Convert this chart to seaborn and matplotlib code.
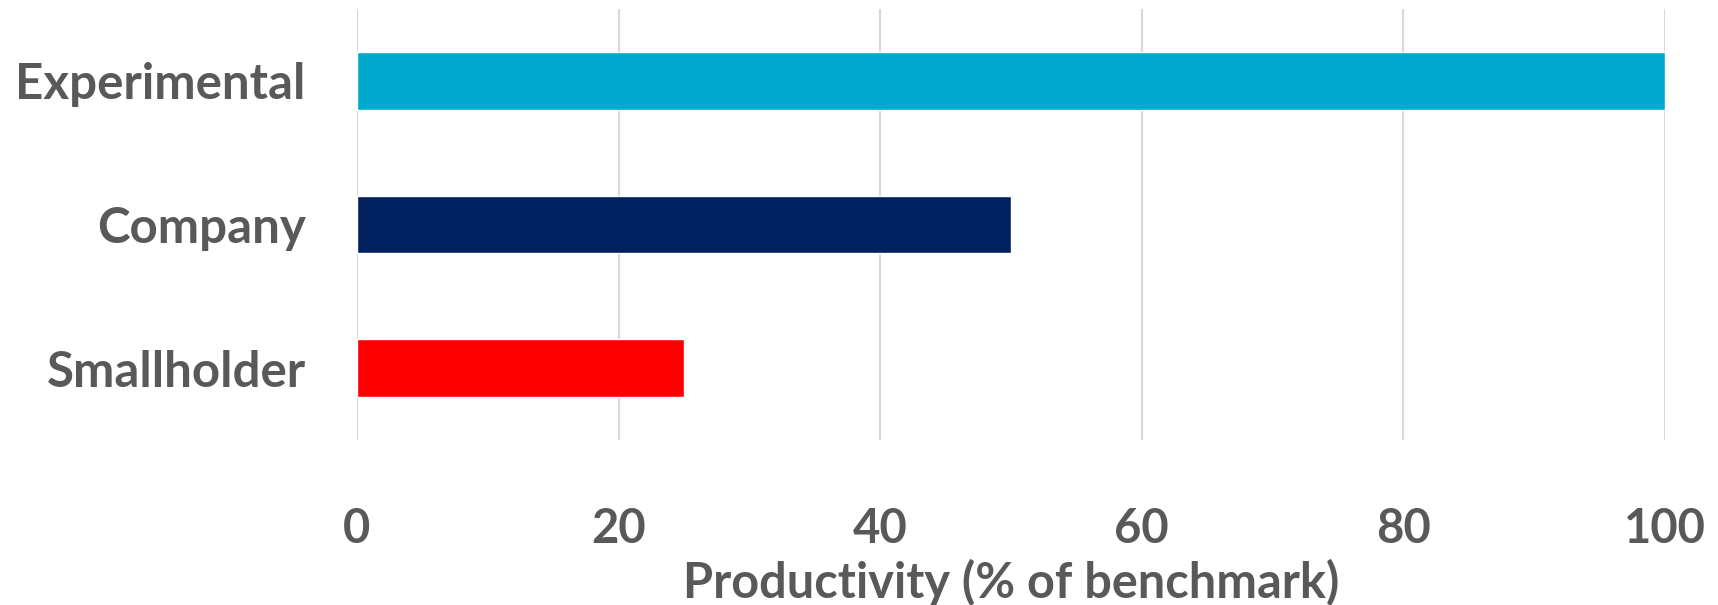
import matplotlib
matplotlib.use("Agg")
import matplotlib.pyplot as plt
import seaborn as sns
import pandas as pd

categories = ["Experimental", "Company", "Smallholder"]
values = [100, 50, 25]
colors = ["#00AACE", "#00205F", "#FF0000"]
xticks = [0, 20, 40, 60, 80, 100]
xlabel = "Productivity (% of benchmark)"

sns.set_theme(style="white")
plt.rcParams['font.family'] = ['Lato', 'DejaVu Sans']
txt = "#595959"

df = pd.DataFrame({"cat": categories, "val": values})
fig = plt.figure(figsize=(17.18, 6.05), dpi=100)
ax = fig.add_axes([357/1718, 1-440/605, (1665-357)/1718, (440-9)/605])
sns.barplot(data=df, y="cat", x="val", hue="cat", palette=colors, order=categories,
            hue_order=categories, width=0.4, orient="h", legend=False, ax=ax, saturation=1)
ax.set_xlim(0, 100)
ax.set_ylim(2.5, -0.5)
ax.set_xticks(xticks)
ax.set_xticklabels([str(t) for t in xticks], fontsize=34, fontweight="bold", color=txt)
ax.set_yticks(range(len(categories)))
ax.set_yticklabels(categories, fontsize=35.5, fontweight="bold", color=txt)
ax.tick_params(axis="x", length=0, pad=48)
ax.tick_params(axis="y", length=0, pad=37)
ax.grid(axis="x", color="#D9D9D9", linewidth=1.5)
ax.set_axisbelow(True)
for s in ax.spines.values():
    s.set_visible(False)
ax.set_ylabel("")
ax.set_xlabel(xlabel, fontsize=35, fontweight="bold", color=txt, labelpad=6)
fig.savefig("out.png", dpi=100)
